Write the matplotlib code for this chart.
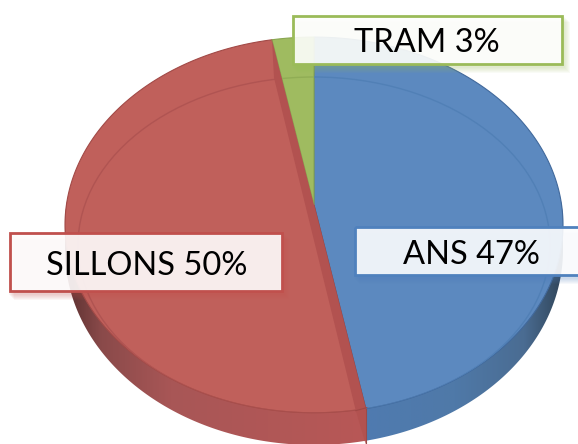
import numpy as np
import matplotlib
matplotlib.use("Agg")
import matplotlib.pyplot as plt
from matplotlib.patches import Polygon, Rectangle, Ellipse
from matplotlib.colors import LinearSegmentedColormap

categories = ["ANS", "SILLONS", "TRAM"]
values = [47, 50, 3]
top_colors = ["#5c89bf", "#c0605b", "#9fbb60"]
edge_colors = ["#41699c", "#a24a47", "#89a650"]
ring_colors = ["#5180b6", "#b05452", "#90ad55"]
box_edges = ["#4f81bd", "#c0504d", "#9bbb59"]
label_boxes = [(355, 227, 240, 48), (10, 233, 272, 58), (293, 16, 269, 48)]

CX, CY0, K, RX = 314, 205, 0.106, 249
B = 164
C = RX * np.sqrt(1 - K ** 2)


def project(x, y):
    w = 1 + K * y
    return CX + C * x / w, (CY0 - B * y) / w


def wedge_points(a0, a1):
    a = np.radians(np.linspace(a0, a1, 240))
    ex, ey = project(np.sin(a), np.cos(a))
    cx, cy = project(0.0, 0.0)
    return np.column_stack([np.r_[cx, ex], np.r_[cy, ey]])


fractions = np.cumsum([0] + values) / sum(values) * 360
fig = plt.figure(figsize=(5.78, 4.44), dpi=100)
ax = fig.add_axes([0, 0, 1, 1])

# silhouette of the body, wall underneath the top surface
th = np.radians(np.linspace(180, 360, 300))
upper_x, upper_y = CX + RX * np.cos(th), 225 + 188 * np.sin(th)
low = np.radians(np.linspace(0, 180, 300))
lower_x, lower_y = CX + RX * np.cos(low), 250 + 195 * np.sin(low)
sil = np.column_stack([np.r_[upper_x, lower_x], np.r_[upper_y, lower_y]])

split_t = np.radians(fractions[1])
split_x = project(np.sin(split_t), np.cos(split_t))[0]
wall_maps = [
    (LinearSegmentedColormap.from_list("r", [(0, "#5a3030"), (.12, "#8a4a4a"), (.35, "#a85656"), (1, "#b85856")]), 65, split_x),
    (LinearSegmentedColormap.from_list("b", [(0, "#4f7bb0"), (.45, "#4f79a8"), (.8, "#4a6c92"), (1, "#304458")]), split_x, 563),
]
for cmap, x0, x1 in wall_maps:
    grad = np.linspace(0, 1, 256)[None, :]
    im = ax.imshow(grad, cmap=cmap, extent=(x0, x1, 444, 200), aspect="auto", zorder=1)
    poly = Polygon(sil, closed=True, transform=ax.transData, fc="none", ec="none")
    ax.add_patch(poly)
    im.set_clip_path(poly)

ring = dict(xy=(CX, 245), width=472, height=336, fill=False, lw=1)
for i, cat in enumerate(categories):
    pts = wedge_points(fractions[i], fractions[i + 1])
    ax.add_patch(Polygon(pts, closed=True, fc=top_colors[i], ec=edge_colors[i], lw=0.8, zorder=2))
    clip = Polygon(pts, closed=True, transform=ax.transData, fc="none", ec="none")
    ax.add_patch(clip)
    e = Ellipse(ec=ring_colors[i], zorder=3, **ring)
    ax.add_patch(e)
    e.set_clip_path(clip)

# cut face of the middle slice
t0, t1 = np.radians(fractions[1]), np.radians(fractions[2])
ax0, ay0 = project(np.sin(t0), np.cos(t0))
ax1, ay1 = project(np.sin(t1), np.cos(t1))
face = [(ax1, ay1), (ax0, ay0), (ax0, ay0 + 36), (ax0 - 10, ay0 + 2), (ax1 + 2, ay1 + 38)]
ax.add_patch(Polygon(face, closed=True, fc="#b25250", ec="none", zorder=4))
ax.plot([ax0 - 10, ax0 + 1], [ay0 + 2, ay0 - 1], color="#a04846", lw=0.8, zorder=4)
ax.plot([ax0, ax0], [ay0, 444], color="#9c4a48", lw=0.8, zorder=4)

# labels
for cat, val, (x, y, w, h), ec in zip(categories, values, label_boxes, box_edges):
    for g in range(1, 7):
        ax.add_patch(Rectangle((x - 2 + g, y + g), w + 4, h + 3, fc=ec, ec="none", alpha=0.05, zorder=5))
    ax.add_patch(Rectangle((x, y), w, h, fc="white", ec="none", alpha=0.89, zorder=6))
    ax.add_patch(Rectangle((x, y), w, h, fc="none", ec=ec, lw=2, zorder=7))
text_pos = [(471, 255), (147, 266), (427, 43)]
for cat, val, (tx, ty) in zip(categories, values, text_pos):
    ax.text(tx, ty, f"{cat} {val}%", ha="center", va="center", family="Lato",
            fontsize=23.5, color="black", zorder=8)

ax.set_xlim(0, 578)
ax.set_ylim(444, 0)
ax.axis("off")
fig.savefig("out.png", dpi=100, facecolor="white")
